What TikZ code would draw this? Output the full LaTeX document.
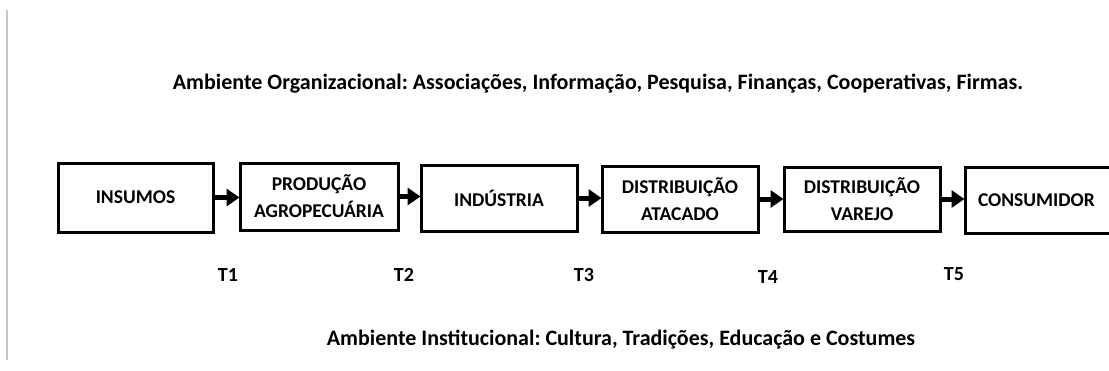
\documentclass[tikz,border=0pt]{standalone}
\usepackage{fontspec}
\setmainfont{Carlito}
\usetikzlibrary{arrows.meta}
\frenchspacing
\begin{document}
\begin{tikzpicture}[x=1pt,y=-1pt,
  box/.style={draw=black,line width=3pt,minimum width=156pt,minimum height=66pt,inner sep=0pt,align=center,font=\fontsize{19.5}{27}\selectfont\bfseries},
  conn/.style={line width=5pt,-{Triangle[length=13pt,width=17pt]},shorten >=-1pt},
  tlab/.style={font=\fontsize{20}{22}\selectfont\bfseries},
  env/.style={font=\fontsize{22}{24}\selectfont\bfseries}]
\path[use as bounding box] (0,0) rectangle (1109,370);
\fill[white] (0,0) rectangle (1109,370);
\coordinate (g1) at (7,10);
\coordinate (g2) at (7,360);
\draw[gray!45,line width=1.2pt] (g1) -- (g2);
\begin{scope}
\clip (0,0) rectangle (1109,370);
\node[box,minimum width=155pt,minimum height=69pt] (ins) at (135.5,197.5) {INSUMOS};
\node[box,minimum width=158pt,minimum height=67pt] (prod) at (319,196.5) {PRODUÇÃO\\AGROPECUÁRIA};
\node[box] (ind) at (499,198) {INDÚSTRIA};
\node[box] (atac) at (680,199) {DISTRIBUIÇÃO\\ATACADO};
\node[box,minimum height=64pt] (var) at (862,199) {DISTRIBUIÇÃO\\VAREJO};
\node[box,minimum height=66pt,minimum width=160pt,text width=150pt,align=left] (cons) at (1045,200) {\hspace*{8pt}CONSUMIDOR};
\end{scope}
\draw[conn] (ins.east) -- (prod.west |- ins.east);
\draw[conn] (prod.east) -- (ind.west |- prod.east);
\draw[conn] (ind.east) -- (atac.west |- ind.east);
\draw[conn] (atac.east) -- (var.west |- atac.east);
\draw[conn] (var.east) -- (cons.west |- var.east);
\node[tlab] (t1) at (228,275) {T1};
\node[tlab] (t2) at (404,275) {T2};
\node[tlab] (t3) at (584,275) {T3};
\node[tlab] (t4) at (768,277) {T4};
\node[tlab] (t5) at (954,274) {T5};
\node[env] (org) at (598,84) {Ambiente Organizacional: Associações, Informação, Pesquisa, Finanças, Cooperativas, Firmas.};
\node[env] (inst) at (621,340) {Ambiente Institucional: Cultura, Tradições, Educação e Costumes};
\end{tikzpicture}
\end{document}
